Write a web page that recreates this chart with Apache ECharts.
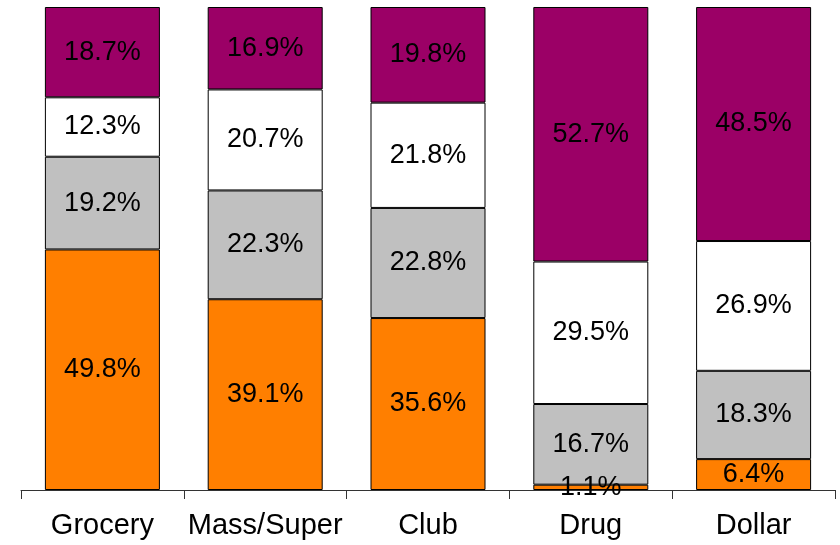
<!DOCTYPE html>
<html>
<head>
<meta charset="utf-8">
<script src="https://cdn.jsdelivr.net/npm/echarts@6/dist/echarts.min.js"></script>
<style>
  html, body { margin: 0; padding: 0; background: #ffffff; }
  #chart { width: 840px; height: 545px; }
</style>
</head>
<body>
<div id="chart"></div>
<script>
// Channel categories along the x axis
const categories = ['Grocery', 'Mass/Super', 'Club', 'Drug', 'Dollar'];

// Share of each segment per channel (%), bottom to top
const orangeShare = [49.8, 39.1, 35.6, 1.1, 6.4];
const grayShare   = [19.2, 22.3, 22.8, 16.7, 18.3];
const whiteShare  = [12.3, 20.7, 21.8, 29.5, 26.9];
const purpleShare = [18.7, 16.9, 19.8, 52.7, 48.5];

const segments = [
  { name: 'orange', values: orangeShare, color: '#FF7F00' },
  { name: 'gray',   values: grayShare,   color: '#C0C0C0' },
  { name: 'white',  values: whiteShare,  color: '#FFFFFF' },
  { name: 'purple', values: purpleShare, color: '#9B0066' }
];

// Each column is drawn as a 100% stack; labels keep the stated shares
const totals = categories.map((_, i) =>
  segments.reduce((s, seg) => s + seg.values[i], 0));

const FONT = '"Liberation Sans", Arial, sans-serif';

const series = segments.map(seg => ({
  name: seg.name,
  type: 'bar',
  stack: 'share',
  barWidth: 115,
  data: seg.values.map((v, i) => ({ value: v / totals[i] * 100, raw: v })),
  itemStyle: { color: seg.color, borderColor: '#000000', borderWidth: 1 },
  label: {
    show: true,
    position: 'inside',
    color: '#000000',
    fontFamily: FONT,
    fontSize: 27,
    formatter: p => p.data.raw.toFixed(1) + '%'
  },
  emphasis: { disabled: true },
  animation: false
}));

const chart = echarts.init(document.getElementById('chart'));
chart.setOption({
  animation: false,
  grid: { left: 21, right: 5, top: 7, bottom: 55, containLabel: false },
  xAxis: {
    type: 'category',
    data: categories,
    axisLine: { show: true, lineStyle: { color: '#333333', width: 1 } },
    axisTick: { show: true, length: 9, alignWithLabel: false, lineStyle: { color: '#333333' } },
    axisLabel: { color: '#000000', fontFamily: FONT, fontSize: 29, margin: 21, interval: 0 }
  },
  yAxis: {
    type: 'value',
    min: 0,
    max: 100,
    show: false,
    splitLine: { show: false }
  },
  series: series
});
</script>
</body>
</html>
